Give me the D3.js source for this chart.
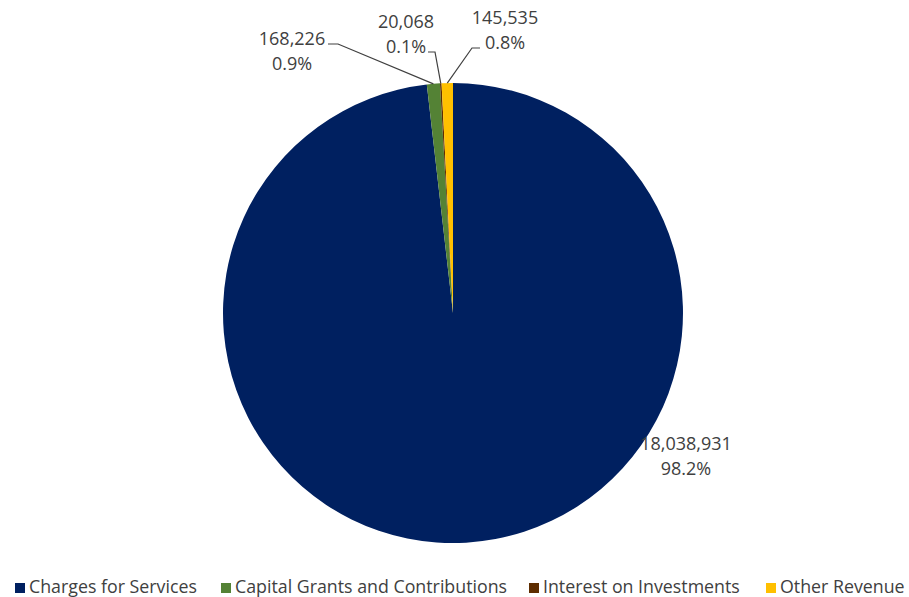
<!DOCTYPE html>
<html>
<head>
<meta charset="utf-8">
<script src="https://cdn.jsdelivr.net/npm/d3@7"></script>
<style>
  body { margin: 0; background: #fff; }
  text { font-family: "Open Sans", sans-serif; fill: #404040; }
</style>
</head>
<body>
<div id="chart"></div>
<script>
// chart data
var categories = ["Charges for Services", "Capital Grants and Contributions", "Interest on Investments", "Other Revenue"];
var values = [18038931, 168226, 20068, 145535];
var percentLabels = ["98.2%", "0.9%", "0.1%", "0.8%"];
var colors = ["#002060", "#548235", "#5e2d00", "#ffc000"];

var svgWidth = 909;
var svgHeight = 597;
var cx = 453, cy = 313, radius = 230;

// label center x, first-line baseline, and leader elbow (start sx -> elbow ex,ey -> slice)
var labelLayout = [
  { x: 686, y: 450, line: false },
  { x: 292, y: 45, line: true, sx: 328, ex: 338, ey: 44 },
  { x: 406, y: 28, line: true, sx: 428, ex: 435, ey: 52 },
  { x: 505, y: 24, line: true, sx: 480, ex: 472, ey: 48 }
];

var svg = d3.select("#chart")
  .append("svg")
  .attr("width", svgWidth)
  .attr("height", svgHeight);

var pie = d3.pie()
  .sort(null)
  .value(function(d) { return d; });

var arc = d3.arc()
  .innerRadius(0)
  .outerRadius(radius);

var arcs = pie(values);

var pieGroup = svg.append("g")
  .attr("transform", `translate(${cx}, ${cy})`);

pieGroup.selectAll("path")
  .data(arcs)
  .enter()
  .append("path")
  .attr("d", arc)
  .attr("fill", function(d, i) { return colors[i]; });

// leader lines
arcs.forEach(function(d, i) {
  var lay = labelLayout[i];
  if (!lay.line) return;
  var mid = (d.startAngle + d.endAngle) / 2;
  var px = cx + Math.sin(mid) * radius;
  var py = cy - Math.cos(mid) * radius;
  svg.append("polyline")
    .attr("points", `${lay.sx},${lay.ey} ${lay.ex},${lay.ey} ${px},${py}`)
    .attr("fill", "none")
    .attr("stroke", "#404040")
    .attr("stroke-width", 1.2);
});

// data labels
var fmt = d3.format(",");
arcs.forEach(function(d, i) {
  var lay = labelLayout[i];
  var t = svg.append("text")
    .attr("text-anchor", "middle")
    .attr("font-size", "18px");
  t.append("tspan")
    .attr("x", lay.x)
    .attr("y", lay.y)
    .text(fmt(values[i]));
  t.append("tspan")
    .attr("x", lay.x)
    .attr("y", lay.y + 25)
    .text(percentLabels[i]);
});

// legend
var legendX = [15, 221, 529, 766];
var legend = svg.append("g");
categories.forEach(function(c, i) {
  var g = legend.append("g")
    .attr("transform", `translate(${legendX[i]}, 0)`);
  g.append("rect")
    .attr("x", 0)
    .attr("y", 583)
    .attr("width", 10)
    .attr("height", 10)
    .attr("fill", colors[i]);
  g.append("text")
    .attr("x", 14)
    .attr("y", 593)
    .attr("font-size", "17.8px")
    .text(c);
});
</script>
</body>
</html>
